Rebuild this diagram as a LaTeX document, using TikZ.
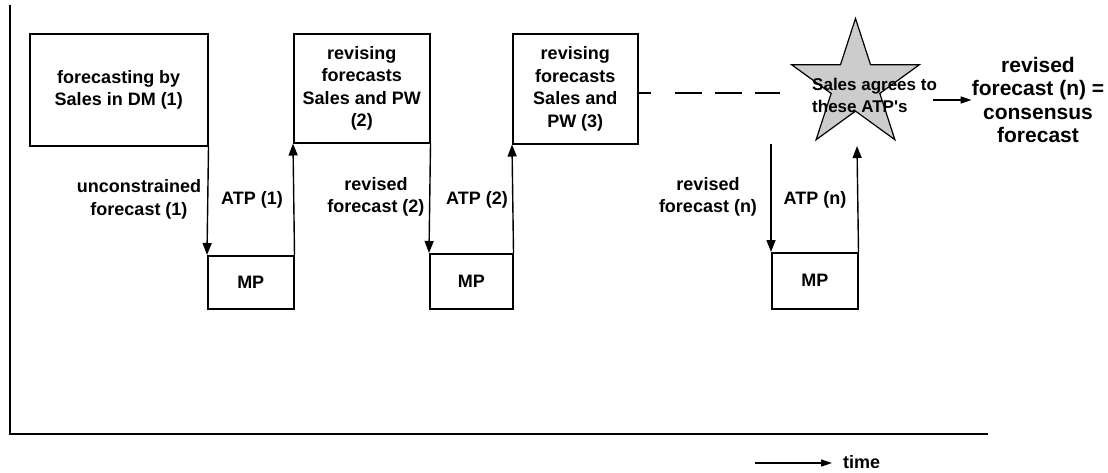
\documentclass[tikz,border=0pt]{standalone}
\usepackage{fontspec}
\setmainfont{Liberation Sans}
\usetikzlibrary{arrows.meta,shapes.geometric}
\newcommand{\labfont}{\fontsize{18}{22.5}\selectfont\bfseries}
\newcommand{\starfont}{\fontsize{17}{22}\selectfont\bfseries}
\newcommand{\bigfont}{\fontsize{21}{23.5}\selectfont\bfseries}
\tikzset{
  stage/.style={draw, line width=1.5pt, inner sep=0pt, align=center,
                font=\labfont, anchor=north west},
  lab/.style={inner sep=0pt, align=center, font=\labfont},
  arr/.style={line width=1.4pt, -{Triangle[length=12pt,width=9pt]}},
  smallarr/.style={line width=1.4pt, -{Triangle[length=11pt,width=7pt]}},
  axis/.style={line width=2pt},
}
\begin{document}
\begin{tikzpicture}[x=1pt,y=-1pt]
\useasboundingbox (0,0) rectangle (1108,472);

% axes
\coordinate (ytop) at (10,5);
\coordinate (origin) at (10,434);
\coordinate (xend) at (988,434);
\draw[axis] (ytop) -- (origin) -- (xend);

% forecasting stages
\node[stage, minimum width=178pt, minimum height=112pt] (b1) at (29,33)
  {forecasting by\\Sales in DM (1)};
\node[stage, minimum width=136pt, minimum height=109pt] (b2) at (293,33)
  {revising\\forecasts\\Sales and PW\\(2)};
\node[stage, minimum width=125pt, minimum height=110pt] (b3) at (512,33)
  {revising\\forecasts\\Sales and\\PW (3)};

% master planning boxes
\node[stage, minimum width=86pt, minimum height=53pt] (mp1) at (207,255) {MP};
\node[stage, minimum width=83pt, minimum height=55pt] (mp2) at (429,253) {MP};
\node[stage, minimum width=86pt, minimum height=56pt] (mpn) at (771,252) {MP};

% flows between stages and MP
\draw[arr] (b1.south east) -- (mp1.north west);
\draw[arr] (mp1.north east) -- (b2.south west);
\draw[arr] (b2.south east) -- (mp2.north west);
\draw[arr] (mp2.north east) -- (b3.south west);

\node[lab] (l1) at (139,199.5) {unconstrained\\forecast (1)};
\node[lab] (a1) at (252,200) {ATP (1)};
\node[lab] (l2) at (376,197) {revised\\forecast (2)};
\node[lab] (a2) at (477,200) {ATP (2)};
\node[lab] (ln) at (708,197) {revised\\forecast (n)};
\node[lab] (an) at (815,200) {ATP (n)};

% consensus star
\node[star, star points=5, star point ratio=2.618, minimum size=134pt,
      inner sep=0pt, draw, line width=1.2pt, fill=gray!40] (star) at (855.5,85.5) {};
\node[inner sep=0pt, align=left, font=\starfont, anchor=west] (agree) at (812,95)
  {Sales agrees to\\these ATP\textquotesingle s};

% dashed continuation towards the star
\coordinate (dashend) at (780,93);
\draw[line width=1.4pt, dash pattern=on 12pt off 24pt on 27pt off 13pt on 27pt off 13pt on 27pt]
  (b3.east |- dashend) -- (dashend);

% last round
\coordinate (ndown) at (771,144);
\coordinate (nup) at (857,146);
\draw[arr] (ndown) -- (mpn.north west);
\draw[arr] (mpn.north east) -- (nup);

% result
\node[inner sep=0pt, align=center, font=\bigfont] (res) at (1038,100)
  {revised\\forecast (n) =\\consensus\\forecast};
\coordinate (agreeout) at (933,100);
\draw[smallarr] (agreeout) -- (agreeout -| res.west);

% time direction
\coordinate (t0) at (755,463);
\node[inner sep=0pt, inner xsep=11pt, anchor=west, font=\labfont] (time) at (832,462) {time};
\draw[smallarr] (t0) -- (t0 -| time.west);
\end{tikzpicture}
\end{document}
